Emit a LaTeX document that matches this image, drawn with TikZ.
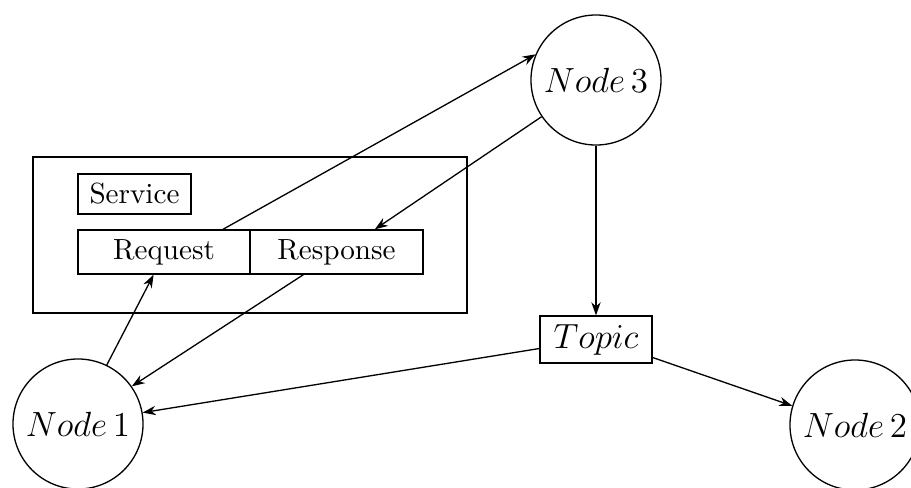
\documentclass[tikz,border=0pt]{standalone}
\usetikzlibrary{arrows.meta,calc}
\begin{document}
\begin{tikzpicture}[x=0.343pt,y=-0.343pt,
  agent/.style={circle,draw,line width=0.45pt,minimum size=44.6pt,inner sep=0pt,font=\fontsize{12}{14}\selectfont},
  box/.style={rectangle,draw,line width=0.45pt,inner sep=0pt},
  link/.style={line width=0.45pt,-{Stealth[length=4.5pt,width=3.2pt]}}]
\useasboundingbox (0,0) rectangle (911,487);

% ROS-style nodes
\node[agent] (n3) at (596,80) {$Node\,3$};
\node[agent] (n1) at (78,424) {$Node\,1$};
\node[agent] (n2) at (855,425) {$Node\,2$};

% topic
\node[box,minimum width=38.4pt,minimum height=16.1pt,font=\fontsize{12}{14}\selectfont] (topic) at (596,339.5) {$Topic$};

% service with request/response parts
\node[box,minimum width=148.9pt,minimum height=53.5pt] (svc) at (250,235) {};
\node[box,minimum width=38.8pt,minimum height=13.7pt] (svclabel) at (134.5,194) {Service};
\node[box,minimum width=59pt,minimum height=15.1pt] (req) at (164,252) {Request};
\node[box,minimum width=59.3pt,minimum height=15.1pt] (resp) at (336.5,252) {Response};

% connections
\draw[link] (n1.64) -- ($(req.south west)!0.44!(req.south east)$);
\draw[link] ($(resp.south west)!0.31!(resp.south east)$) -- (n1.35);
\draw[link] ($(req.north west)!0.84!(req.north east)$) -- (n3.157);
\draw[link] (n3.214) -- ($(resp.north west)!0.72!(resp.north east)$);
\draw[link] (n3) -- (topic);
\draw[link] ($(topic.west)+(0,9)$) -- (n1.10);
\draw[link] ($(topic.east)+(0,18)$) -- (n2.163);
\end{tikzpicture}
\end{document}
